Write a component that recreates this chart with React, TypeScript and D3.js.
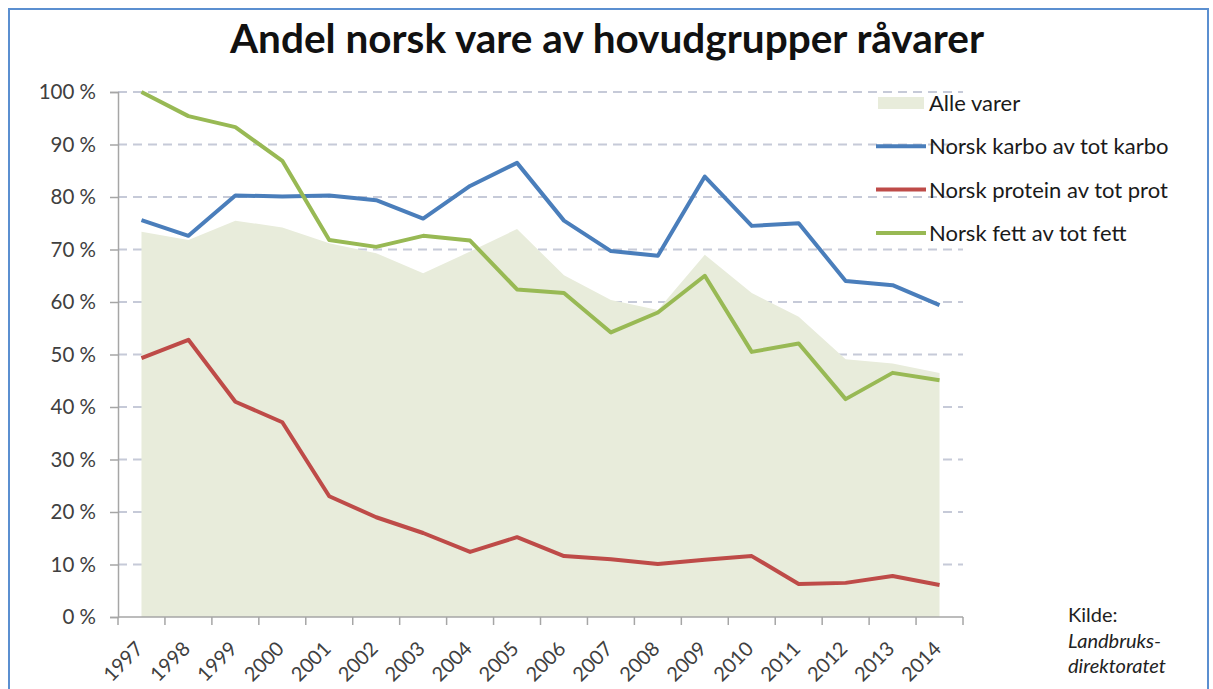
import React, { useRef, useEffect } from 'react';
import * as d3 from 'd3';

const years = [
  '1997', '1998', '1999', '2000', '2001', '2002', '2003', '2004', '2005',
  '2006', '2007', '2008', '2009', '2010', '2011', '2012', '2013', '2014',
];

// Alle varer (area)
const alleVarer = [73.4, 71.8, 75.5, 74.2, 71.2, 69.3, 65.5, 69.6, 73.9, 65.1, 60.4, 58.5, 69.0, 61.7, 57.2, 49.1, 48.3, 46.5];
// Norsk karbo av tot karbo
const karbo = [75.6, 72.6, 80.3, 80.1, 80.3, 79.4, 75.9, 82.1, 86.5, 75.5, 69.7, 68.8, 83.9, 74.5, 75.0, 64.0, 63.2, 59.4];
// Norsk protein av tot prot
const protein = [49.3, 52.8, 41.0, 37.1, 23.0, 19.0, 16.0, 12.4, 15.2, 11.6, 11.0, 10.1, 10.9, 11.6, 6.3, 6.5, 7.8, 6.1];
// Norsk fett av tot fett
const fett = [100, 95.4, 93.3, 86.9, 71.8, 70.5, 72.6, 71.7, 62.4, 61.7, 54.2, 58.0, 65.0, 50.5, 52.1, 41.5, 46.5, 45.1];

const yTicks = [0, 10, 20, 30, 40, 50, 60, 70, 80, 90, 100];

const lineSeries = [
  { name: 'Norsk karbo av tot karbo', values: karbo, color: '#4a7ebb' },
  { name: 'Norsk protein av tot prot', values: protein, color: '#be4b48' },
  { name: 'Norsk fett av tot fett', values: fett, color: '#98b954' },
];

const W = 1213;
const H = 689;
const FONT = 'Lato, "Open Sans", sans-serif';

export default function App() {
  const ref = useRef<SVGSVGElement | null>(null);

  useEffect(() => {
    if (!ref.current) return;
    const svg = d3.select(ref.current);
    svg.selectAll('*').remove();

    const left = 118;
    const right = 963;
    const top = 92;
    const bottom = 617;

    const x = d3.scaleBand<string>().domain(years).range([left, right]).padding(0);
    const y = d3.scaleLinear().domain([0, 100]).range([bottom, top]);
    const cx = (yr: string) => (x(yr) as number) + x.bandwidth() / 2;

    // frame
    svg.append('rect')
      .attr('x', 9).attr('y', 9)
      .attr('width', 1199).attr('height', 700)
      .attr('fill', 'white')
      .attr('stroke', '#5b8fd0')
      .attr('stroke-width', 2);

    // title
    svg.append('text')
      .attr('x', 607).attr('y', 53)
      .attr('text-anchor', 'middle')
      .attr('font-family', FONT)
      .attr('font-weight', 'bold')
      .attr('font-size', 40.5)
      .attr('fill', '#111')
      .text('Andel norsk vare av hovudgrupper råvarer');

    // gridlines
    svg.append('g')
      .selectAll('line')
      .data(yTicks.filter(t => t > 0))
      .enter()
      .append('line')
      .attr('x1', left).attr('x2', right)
      .attr('y1', d => y(d)).attr('y2', d => y(d))
      .attr('stroke', '#c6cad8')
      .attr('stroke-width', 1.8)
      .attr('stroke-dasharray', '9,6');

    // area
    const area = d3.area<number>()
      .x((_, i) => cx(years[i]))
      .y0(y(0))
      .y1(d => y(d));
    svg.append('path')
      .datum(alleVarer)
      .attr('fill', '#e8ecdb')
      .attr('d', area);

    // lines
    const line = d3.line<number>()
      .x((_, i) => cx(years[i]))
      .y(d => y(d));
    lineSeries.forEach(s => {
      svg.append('path')
        .datum(s.values)
        .attr('fill', 'none')
        .attr('stroke', s.color)
        .attr('stroke-width', 4)
        .attr('stroke-linejoin', 'round')
        .attr('d', line);
    });

    // y axis
    const yAxis = d3.axisLeft(y)
      .tickValues(yTicks)
      .tickSize(8)
      .tickPadding(14)
      .tickFormat(d => `${d} %`);
    const gy = svg.append('g')
      .attr('transform', `translate(${left},0)`)
      .call(yAxis);
    gy.select('.domain').attr('stroke', '#a6a6a6').attr('stroke-width', 1.5);
    gy.selectAll('.tick line').attr('stroke', '#a6a6a6').attr('stroke-width', 1.5);
    gy.selectAll('.tick text')
      .attr('font-family', FONT)
      .attr('font-size', 20.5)
      .attr('fill', '#404040');

    // x axis (ticks between categories)
    const gx = svg.append('g');
    gx.append('line')
      .attr('x1', left).attr('x2', right)
      .attr('y1', bottom).attr('y2', bottom)
      .attr('stroke', '#a6a6a6').attr('stroke-width', 1.5);
    const bounds = [...years.map(yr => x(yr) as number), right];
    gx.selectAll('line.tick')
      .data(bounds)
      .enter()
      .append('line')
      .attr('class', 'tick')
      .attr('x1', d => d).attr('x2', d => d)
      .attr('y1', bottom).attr('y2', bottom + 8)
      .attr('stroke', '#a6a6a6').attr('stroke-width', 1.5);
    gx.selectAll('text')
      .data(years)
      .enter()
      .append('text')
      .attr('transform', d => `translate(${cx(d) + 3},${bottom + 33}) rotate(-45)`)
      .attr('text-anchor', 'end')
      .attr('font-family', FONT)
      .attr('font-size', 20)
      .attr('fill', '#404040')
      .text(d => d);

    // legend
    const lg = svg.append('g').attr('font-family', FONT).attr('font-size', 22).attr('fill', '#1a1a1a');
    const rows = [
      { name: 'Alle varer', color: '#e8ecdb', kind: 'area' },
      ...lineSeries.map(s => ({ name: s.name, color: s.color, kind: 'line' })),
    ];
    rows.forEach((r, i) => {
      const ry = 103 + i * 43.3;
      if (r.kind === 'area') {
        lg.append('rect')
          .attr('x', 878).attr('y', ry - 6)
          .attr('width', 46).attr('height', 12)
          .attr('fill', r.color);
      } else {
        lg.append('line')
          .attr('x1', 876).attr('x2', 926)
          .attr('y1', ry).attr('y2', ry)
          .attr('stroke', r.color)
          .attr('stroke-width', 4);
      }
      lg.append('text')
        .attr('x', 929).attr('y', ry + 8)
        .text(r.name);
    });

    // source
    const src = svg.append('g').attr('font-family', FONT).attr('font-size', 20).attr('fill', '#222');
    src.append('text').attr('x', 1068).attr('y', 622).text('Kilde:');
    src.append('text').attr('x', 1068).attr('y', 648).attr('font-style', 'italic').text('Landbruks-');
    src.append('text').attr('x', 1068).attr('y', 673).attr('font-style', 'italic').text('direktoratet');
  }, []);

  return (
    <svg
      ref={ref}
      width={W}
      height={H}
      style={{ position: 'absolute', left: 0, top: 0, background: 'white' }}
    />
  );
}
